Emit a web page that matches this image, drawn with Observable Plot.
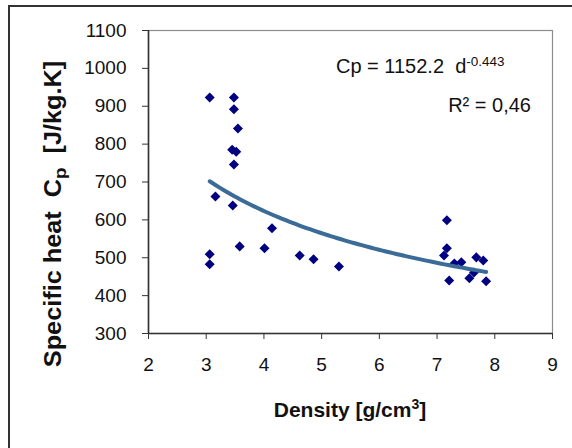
<!DOCTYPE html>
<html><head><meta charset="utf-8">
<script src="https://cdn.jsdelivr.net/npm/d3@7"></script>
<script src="https://cdn.jsdelivr.net/npm/@observablehq/plot@0.6"></script>
<style>
body{margin:0;background:#fff;overflow:hidden;}
#wrap{position:relative;width:572px;height:448px;overflow:hidden;background:#fff;}
#border{position:absolute;left:8px;top:5px;width:700px;height:700px;border:2px solid #333;box-sizing:border-box;}
#chart{position:absolute;left:0;top:0;}
</style></head><body>
<div id="wrap"><div id="border"></div><div id="chart"></div></div>
<script>
// Measured points: density [g/cm3] and specific heat Cp [J/kg.K]
const density      = [3.06, 3.48, 3.48, 3.55, 3.45, 3.52, 3.48, 3.16, 3.46, 3.06, 3.06, 3.58, 4.01, 4.14, 4.62, 4.86, 5.30,
                      7.17, 7.17, 7.12, 7.30, 7.42, 7.68, 7.80, 7.21, 7.56, 7.64, 7.85];
const specificHeat = [923, 923, 892, 841, 785, 780, 746, 662, 638, 509, 483, 530, 525, 578, 506, 496, 477,
                      599, 525, 506, 485, 488, 501, 493, 440, 446, 461, 438];
// Power trendline shown on the chart: Cp = 1152.2 d^-0.443
const fitA = 1152.2;
const fitB = -0.443;
const fitRange = [3.06, 7.85];
const xTicks = [2, 3, 4, 5, 6, 7, 8, 9];
const yTicks = [300, 400, 500, 600, 700, 800, 900, 1000, 1100];

const data = density.map((d, i) => ({density: d, cp: specificHeat[i]}));
const curve = d3.range(fitRange[0], fitRange[1] + 1e-9, (fitRange[1] - fitRange[0]) / 80)
  .map(d => ({density: d, cp: fitA * Math.pow(d, fitB)}));

const font = "'Liberation Sans', Arial, sans-serif";
const plot = Plot.plot({
  width: 572, height: 448,
  marginLeft: 148, marginRight: 20, marginTop: 30, marginBottom: 115,
  style: {fontFamily: font, fontSize: "19px", background: "transparent", color: "#111"},
  x: {domain: [2, 9], label: null},
  y: {domain: [300, 1100], label: null},
  marks: [
    Plot.frame({stroke: "#8c8c8c", strokeWidth: 1.2}),
    Plot.ruleY([300], {stroke: "#333", strokeWidth: 1.6}),
    Plot.ruleX([2], {stroke: "#333", strokeWidth: 1.6}),
    Plot.axisX({ticks: xTicks, tickSize: 6, tickPadding: 18, label: null, stroke: "#333", tickFormat: d => String(d)}),
    Plot.axisY({ticks: yTicks, tickSize: 6, tickPadding: 16, label: null, stroke: "#333", tickFormat: d => String(d)}),
    Plot.dot(data, {x: "density", y: "cp", symbol: "square", r: 4, rotate: 45, fill: "#000080", stroke: "none"}),
    Plot.line(curve, {x: "density", y: "cp", stroke: "#3b6b97", strokeWidth: 4})
  ]
});
document.getElementById("chart").appendChild(plot);

const svg = d3.select(plot);
// X axis title
const xt = svg.append("text")
  .attr("x", 350).attr("y", 417)
  .attr("text-anchor", "middle")
  .attr("font-family", font).attr("font-weight", "bold").attr("font-size", 21)
  .attr("fill", "#111").style("white-space", "pre");
xt.append("tspan").text("Density [g/cm");
xt.append("tspan").attr("dy", -8).attr("font-size", 14).text("3");
xt.append("tspan").attr("dy", 8).text("]");

// Y axis title
const yt = svg.append("text")
  .attr("transform", "translate(61,214) rotate(-90) scale(1.1,1)")
  .attr("text-anchor", "middle")
  .attr("font-family", font).attr("font-weight", "bold").attr("font-size", 23)
  .attr("fill", "#111").style("white-space", "pre");
yt.append("tspan").text("Specific heat  C");
yt.append("tspan").attr("dy", 5).attr("font-size", 17).text("p");
yt.append("tspan").attr("dy", -5).text("  [J/kg.K]");

// Trendline equation
const eq = svg.append("text")
  .attr("x", 336).attr("y", 73)
  .attr("text-anchor", "start")
  .attr("font-family", font).attr("font-size", 20)
  .attr("fill", "#111").style("white-space", "pre");
eq.append("tspan").text("Cp = 1152.2  d");
eq.append("tspan").attr("dy", -7).attr("font-size", 13.5).text("-0.443");

svg.append("text")
  .attr("x", 531).attr("y", 112)
  .attr("text-anchor", "end")
  .attr("font-family", font).attr("font-size", 20)
  .attr("fill", "#111").style("white-space", "pre")
  .text("R² = 0,46");
</script>
</body></html>
